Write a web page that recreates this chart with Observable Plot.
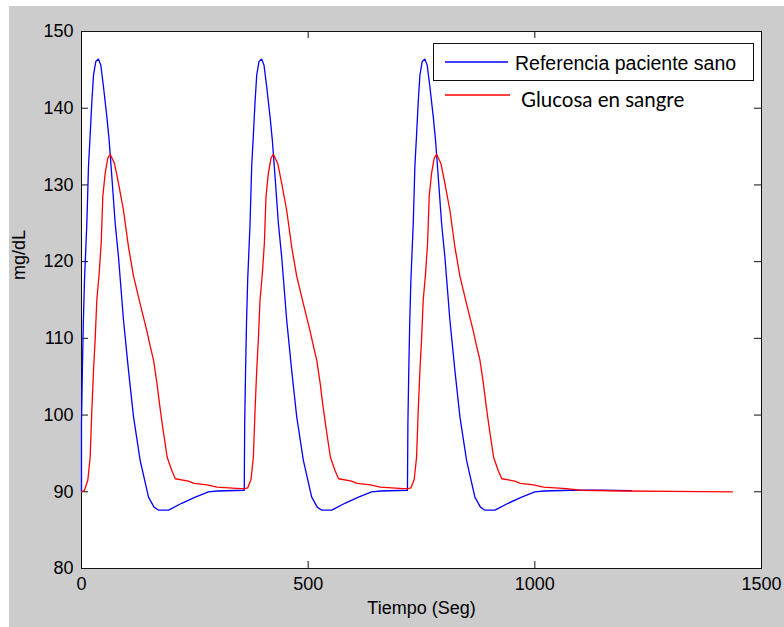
<!DOCTYPE html>
<html>
<head>
<meta charset="utf-8">
<script src="https://cdn.jsdelivr.net/npm/d3@7"></script>
<script src="https://cdn.jsdelivr.net/npm/@observablehq/plot@0.6"></script>
<style>
  html, body { margin: 0; padding: 0; background: #ffffff; }
  #chart { width: 784px; height: 627px; position: relative;
    background:
      linear-gradient(#fff, #fff) top left / 100% 6px no-repeat,
      linear-gradient(#fff, #fff) top left / 9px 100% no-repeat,
      #cccccc; }
  #chart svg { display: block; background: transparent; }
</style>
</head>
<body>
<div id="chart"></div>
<script>
// ---- Data ----
const xTicks = [0, 500, 1000, 1500];
const yTicks = [80, 90, 100, 110, 120, 130, 140, 150];
const seriesNames = ["Referencia paciente sano", "Glucosa en sangre"];
const xLabel = "Tiempo (Seg)";
const yLabel = "mg/dL";

// Blue: Referencia paciente sano
const blueT = [
  0, 0, 2, 4, 6.6, 11.8, 15.4, 19.1, 22.8, 26.5, 31.6, 37.5, 42.6, 48.5, 55.9, 61, 66.9, 74.3, 81.6,
  92.6, 103.7, 114.7, 129.4, 147.8, 160, 170, 192, 221, 251, 280, 300, 359,
  360, 362, 364, 366.6, 371.8, 375.4, 379.1, 382.8, 386.5, 391.6, 397.5, 402.6, 408.5, 415.9, 421, 426.9, 434.3, 441.6,
  452.6, 463.7, 474.7, 489.4, 507.8, 520, 530, 552, 581, 611, 640, 660, 719,
  720, 722, 724, 726.6, 731.8, 735.4, 739.1, 742.8, 746.5, 751.6, 757.5, 762.6, 768.5, 775.9, 781, 786.9, 794.3, 801.6,
  812.6, 823.7, 834.7, 849.4, 867.8, 880, 890, 912, 941, 971, 1000, 1020, 1080, 1150, 1213
];
const blueV = [
  90, 99, 106, 112, 117.6, 125, 132.4, 136.5, 140.8, 144.3, 146.1, 146.4, 145.6, 142.8, 138.9, 135.8, 131.1, 125, 120.6,
  112.4, 105.8, 99.8, 94.1, 89.3, 88, 87.6, 87.6, 88.5, 89.3, 90, 90.1, 90.2,
  99, 106, 112, 117.6, 125, 132.4, 136.5, 140.8, 144.3, 146.1, 146.4, 145.6, 142.8, 138.9, 135.8, 131.1, 125, 120.6,
  112.4, 105.8, 99.8, 94.1, 89.3, 88, 87.6, 87.6, 88.5, 89.3, 90, 90.1, 90.2,
  99, 106, 112, 117.6, 125, 132.4, 136.5, 140.8, 144.3, 146.1, 146.4, 145.6, 142.8, 138.9, 135.8, 131.1, 125, 120.6,
  112.4, 105.8, 99.8, 94.1, 89.3, 88, 87.6, 87.6, 88.5, 89.3, 90, 90.1, 90.2, 90.2, 90.15
];

// Red: Glucosa en sangre
const redT = [
  0, 6.6, 13.9, 19.1, 22.8, 26.5, 30.1, 33.8, 39, 43.4, 47, 52.2, 58, 63.2, 72.8, 81.6, 92.6, 103.7, 114.7,
  129.4, 144, 152, 158.8, 166.6, 172, 178, 189, 199, 207, 236, 248, 277, 299, 350,
  360, 366.6, 373.9, 379.1, 382.8, 386.5, 390.1, 393.8, 399, 403.4, 407, 412.2, 418, 423.2, 432.8, 441.6, 452.6, 463.7, 474.7,
  489.4, 504, 512, 518.8, 526.6, 532, 538, 549, 559, 567, 596, 608, 637, 659, 710,
  720, 726.6, 733.9, 739.1, 742.8, 746.5, 750.1, 753.8, 759, 763.4, 767, 772.2, 778, 783.2, 792.8, 801.6, 812.6, 823.7, 834.7,
  849.4, 864, 872, 878.8, 886.6, 892, 898, 909, 919, 927, 956, 968, 997, 1019, 1070, 1100, 1200, 1300, 1436
];
const redV = [
  90, 90.2, 91.5, 94.5, 100.6, 105.8, 109.8, 115, 118.5, 122.4, 128.5, 131.5, 133.5, 134, 132.8, 130.2, 126.7, 121.9, 118.1,
  114.5, 111, 108.9, 107.2, 104.1, 101.5, 98.9, 94.5, 92.8, 91.7, 91.4, 91.1, 90.9, 90.6, 90.4,
  90.4, 90.5, 91.6, 94.5, 100.6, 105.8, 109.8, 115, 118.5, 122.4, 128.5, 131.5, 133.5, 134, 132.8, 130.2, 126.7, 121.9, 118.1,
  114.5, 111, 108.9, 107.2, 104.1, 101.5, 98.9, 94.5, 92.8, 91.7, 91.4, 91.1, 90.9, 90.6, 90.4,
  90.4, 90.5, 91.6, 94.5, 100.6, 105.8, 109.8, 115, 118.5, 122.4, 128.5, 131.5, 133.5, 134, 132.8, 130.2, 126.7, 121.9, 118.1,
  114.5, 111, 108.9, 107.2, 104.1, 101.5, 98.9, 94.5, 92.8, 91.7, 91.4, 91.1, 90.9, 90.6, 90.4, 90.2, 90.1, 90.05, 90
];

const blue = blueT.map((t, i) => ({t, v: blueV[i]}));
const red = redT.map((t, i) => ({t, v: redV[i]}));

const W = 784, H = 627;
const mL = 81, mR = 23, mT = 31, mB = 59;
const plotW = W - mL - mR, plotH = H - mT - mB;
const tickLen = 7;
const font = "'Liberation Sans', Arial, sans-serif";

const chart = Plot.plot({
  width: W,
  height: H,
  marginLeft: mL, marginRight: mR, marginTop: mT, marginBottom: mB,
  x: {domain: [0, 1500], ticks: xTicks},
  y: {domain: [80, 150], ticks: yTicks},
  style: {fontFamily: font, fontSize: "18px", color: "#000", background: "transparent", overflow: "visible"},
  marks: [
    Plot.frame({fill: "white", stroke: "none"}),
    Plot.frame({stroke: "#111", strokeWidth: 1}),
    // inward ticks: left, right, bottom, top
    Plot.ruleY(yTicks, {y: d => d, insetRight: plotW - tickLen, stroke: "#111"}),
    Plot.ruleY(yTicks, {y: d => d, insetLeft: plotW - tickLen, stroke: "#111"}),
    Plot.ruleX(xTicks, {x: d => d, insetTop: plotH - tickLen, stroke: "#111"}),
    Plot.ruleX(xTicks, {x: d => d, insetBottom: plotH - tickLen, stroke: "#111"}),
    Plot.line(blue, {x: "t", y: "v", stroke: "#0000ff", strokeWidth: 1.3}),
    Plot.line(red, {x: "t", y: "v", stroke: "#ff0000", strokeWidth: 1.3}),
    Plot.axisX({ticks: xTicks, tickSize: 0, tickPadding: 9, label: null, fontSize: 18, tickFormat: d => String(d)}),
    Plot.axisY({ticks: yTicks, tickSize: 0, tickPadding: 8, label: null, fontSize: 18, tickFormat: d => String(d)}),
    Plot.text([xLabel], {frameAnchor: "bottom", dy: 33, fontSize: 18, lineAnchor: "top"}),
    Plot.text([yLabel], {frameAnchor: "left", dx: -62, dy: -20, rotate: -90, fontSize: 18})
  ]
});

document.getElementById("chart").appendChild(chart);

// Legend (MATLAB style box for the first entry, second entry beneath)
const svg = d3.select(chart);
const lg = svg.append("g").attr("text-anchor", "start");
lg.append("rect").attr("x", 433.5).attr("y", 43.5).attr("width", 320).attr("height", 37)
  .attr("fill", "white").attr("stroke", "#111").attr("stroke-width", 1);
lg.append("line").attr("x1", 445).attr("x2", 508).attr("y1", 62).attr("y2", 62)
  .attr("stroke", "#0000ff").attr("stroke-width", 1.3);
lg.append("text").attr("x", 515).attr("y", 70).attr("text-anchor", "start").text(seriesNames[0])
  .attr("font-family", font).attr("font-size", 19.5).attr("fill", "#000");
lg.append("line").attr("x1", 445).attr("x2", 510).attr("y1", 95).attr("y2", 95)
  .attr("stroke", "#ff0000").attr("stroke-width", 1.3);
lg.append("text").attr("x", 521).attr("y", 106.5).attr("text-anchor", "start").text(seriesNames[1])
  .attr("font-family", "Lato, 'Open Sans', sans-serif").attr("font-size", 20.5).attr("fill", "#000");
</script>
</body>
</html>
